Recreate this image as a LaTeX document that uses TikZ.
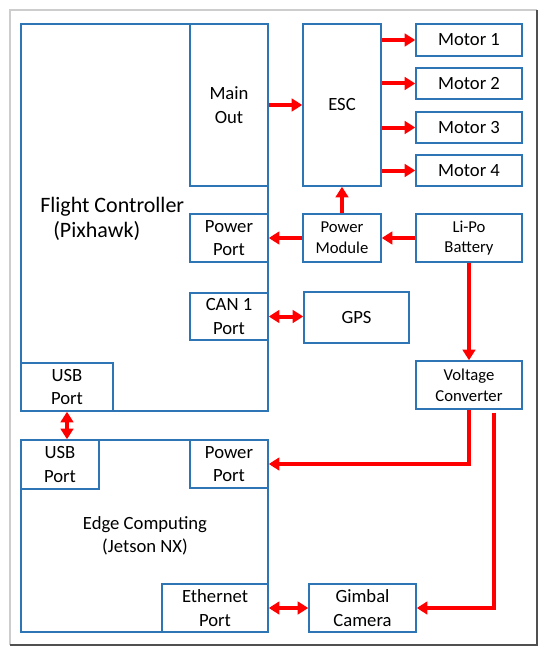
\documentclass[tikz,border=0pt]{standalone}
\usepackage{fontspec}
\setmainfont{Carlito}
\usetikzlibrary{arrows.meta,fit,calc}
\definecolor{boxblue}{RGB}{46,117,182}
\definecolor{framelight}{RGB}{205,205,205}
\definecolor{framedark}{RGB}{80,80,80}
\tikzset{
  box/.style={draw=boxblue, line width=1.1pt, inner sep=0pt, align=center,
    font=\fontsize{14}{17.5}\selectfont},
  arr/.style={draw=red, line width=3pt, -{Triangle[length=8pt,width=9.5pt]}},
  darr/.style={draw=red, line width=3pt, {Triangle[length=8pt,width=9.5pt]}-{Triangle[length=8pt,width=9.5pt]}},
  lbl/.style={inner sep=0pt, font=\fontsize{14}{17.5}\selectfont},
  slbl/.style={lbl, font=\fontsize{12.5}{15.5}\selectfont},
  blbl/.style={inner sep=0pt, anchor=base west, font=\fontsize{16.5}{19}\selectfont}
}
\begin{document}
\begin{tikzpicture}[x=0.75pt,y=-0.75pt]
\useasboundingbox (0,0) rectangle (550,660);
% outer frame
\draw[framelight, line width=0.9pt] (10,645) -- (10,10) -- (537,10);
\draw[framedark, line width=0.9pt] (537,10) -- (537,645) -- (10,645);

% Flight controller
\node[box, fit={(21,24)(268,411)}] (fc) {};
\node[blbl] (fct) at (40,212) {Flight Controller};
\node[blbl] (fcp) at (53,237) {(Pixhawk)};
\node[box, fit={(190,24)(268,186)}] (mo) {};
\node[lbl, align=center] (mot) at (mo.center) {Main\\Out};
\node[box, fit={(190,214)(268,262)}] (fcpp) {};
\node[lbl, align=center] (fcppt) at (fcpp.center) {Power\\Port};
\node[box, fit={(190,293)(268,340)}] (can) {};
\node[lbl, align=center] (cant) at (can.center) {CAN 1\\Port};
\node[box, fit={(21,363)(113,411)}] (fcusb) {};
\node[lbl, align=center] (fcusbt) at (fcusb.center) {USB\\Port};

% Edge computing
\node[box, fit={(21,440)(268,632)}] (ec) {};
\node[lbl, align=center] (ect) at (145,536) {Edge Computing\\(Jetson NX)};
\node[box, fit={(21,440)(99,489)}] (eusb) {};
\node[lbl, align=center] (eusbt) at (eusb.center) {USB\\Port};
\node[box, fit={(190,440)(268,488)}] (epp) {};
\node[lbl, align=center] (eppt) at (epp.center) {Power\\Port};
\node[box, fit={(162,584)(268,632)}] (eth) {};
\node[lbl, align=center] (etht) at (eth.center) {Ethernet\\Port};

% ESC and motors
\node[box, fit={(303,24)(381,186)}] (esc) {};
\node[lbl] (esct) at (esc.center) {ESC};
\node[box, fit={(416,24)(522,56)}] (m1) {};
\node[lbl] (m1t) at (m1.center) {Motor 1};
\node[box, fit={(416,68)(522,99)}] (m2) {};
\node[lbl] (m2t) at (m2.center) {Motor 2};
\node[box, fit={(416,112)(522,143)}] (m3) {};
\node[lbl] (m3t) at (m3.center) {Motor 3};
\node[box, fit={(416,155)(522,186)}] (m4) {};
\node[lbl] (m4t) at (m4.center) {Motor 4};

% Power
\node[box, fit={(303,214)(381,262)}] (pm) {};
\node[slbl, align=center] (pmt) at (pm.center) {Power\\Module};
\node[box, fit={(416,214)(522,262)}] (li) {};
\node[slbl, align=center] (lit) at (li.center) {Li-Po\\Battery};
\node[box, fit={(304,292)(409,343)}] (gps) {};
\node[lbl] (gpst) at (gps.center) {GPS};
\node[box, fit={(416,361)(522,409)}] (vc) {};
\node[slbl, align=center] (vct) at (vc.center) {Voltage\\Converter};
\node[box, fit={(309,584)(416,632)}] (gim) {};
\node[lbl, align=center] (gimt) at (gim.center) {Gimbal\\Camera};

% connectors
\draw[arr] (mo.east) -- (esc.west);
\draw[arr] (esc.east |- m1.west) -- (m1.west);
\draw[arr] (esc.east |- m2.west) -- (m2.west);
\draw[arr] (esc.east |- m3.west) -- (m3.west);
\draw[arr] (esc.east |- m4.west) -- (m4.west);
\draw[arr] (pm.north) -- (esc.south);
\draw[arr] (pm.west) -- (fcpp.east);
\draw[arr] (li.west) -- (pm.east);
\draw[darr] (can.east) -- (gps.west |- can.east);
\draw[arr] (li.south) -- (vc.north);
\draw[arr] (vc.south) |- (epp.east);
\coordinate (vc2) at ($(vc.south)+(25,3)$);
\draw[arr] (vc2) |- (gim.east);
\draw[darr] (eth.east) -- (gim.west);
\draw[darr] (fcusb.south) -- (fcusb.south |- eusb.north);
\end{tikzpicture}
\end{document}
